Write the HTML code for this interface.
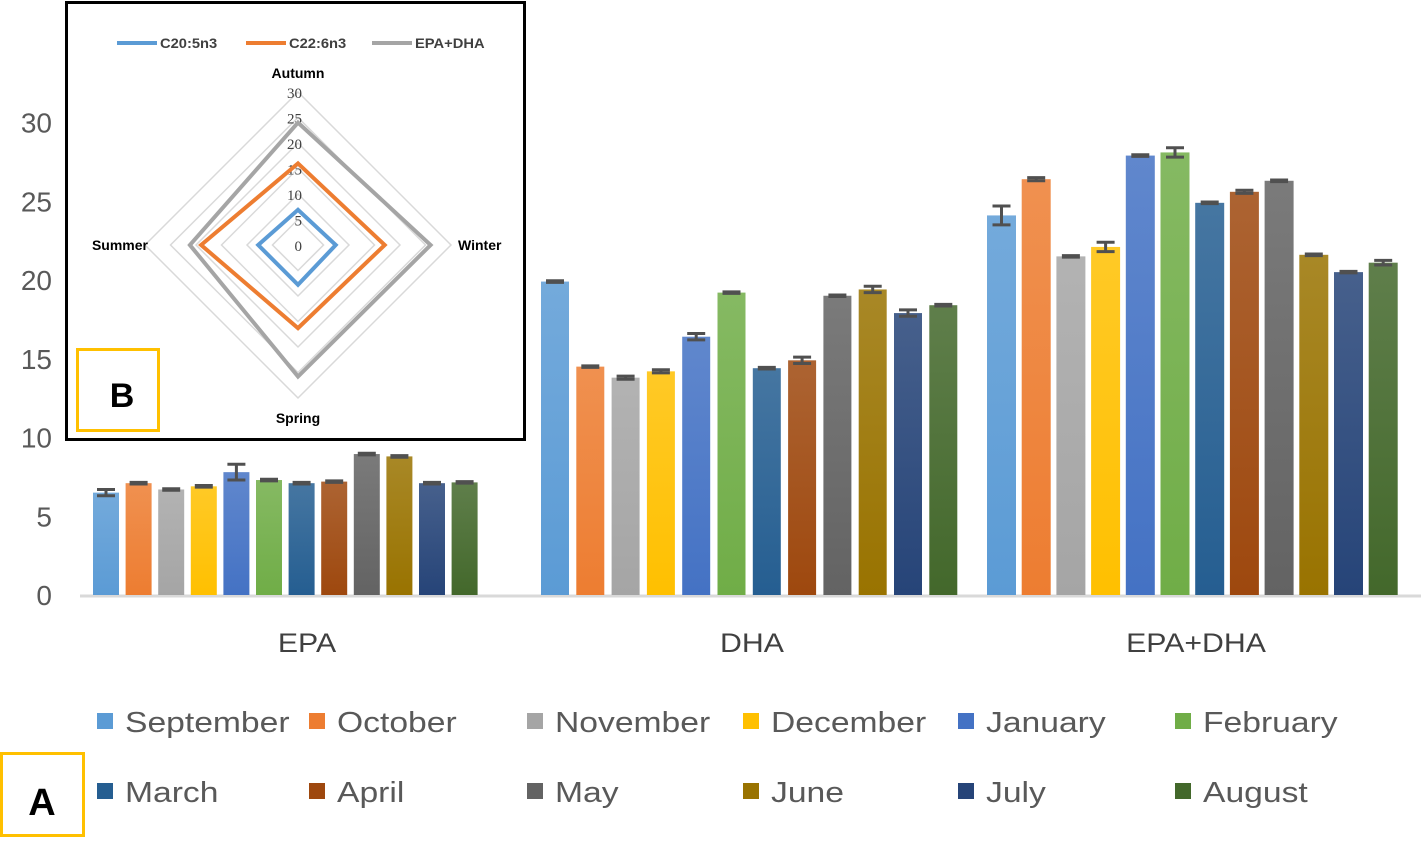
<!DOCTYPE html>
<html><head><meta charset="utf-8"><style>
body{margin:0;background:#fff;width:1421px;height:837px;overflow:hidden;font-family:"Liberation Sans",sans-serif}
</style></head><body>
<svg id="c" width="1421" height="837" xmlns="http://www.w3.org/2000/svg"></svg>
<script>
const months=["September","October","November","December","January","February","March","April","May","June","July","August"];
const groups=["EPA","DHA","EPA+DHA"];
const epa=[6.5,7.1,6.7,6.9,7.8,7.3,7.1,7.2,8.95,8.8,7.1,7.15];
const dha=[19.9,14.5,13.8,14.2,16.4,19.2,14.4,14.9,19.0,19.4,17.9,18.4];
const epadha=[24.1,26.4,21.5,22.1,27.9,28.1,24.9,25.6,26.3,21.6,20.5,21.1];
const epaErr=[0.2,0.05,0.05,0.05,0.5,0.05,0.05,0.05,0.05,0.05,0.05,0.05];
const dhaErr=[0.05,0.05,0.1,0.1,0.2,0.05,0.05,0.2,0.05,0.2,0.2,0.05];
const edErr=[0.6,0.1,0.05,0.3,0.05,0.3,0.05,0.1,0.05,0.05,0.05,0.15];
const yTicks=[0,5,10,15,20,25,30];
const seasons=["Autumn","Winter","Spring","Summer"];
const c205=[6.9,7.4,7.8,7.8];
const c226=[16,17,16.3,19];
const cSum=[24,26,25.8,21.2];
const radarTicks=[0,5,10,15,20,25,30];
const colors=["#5b9bd5","#ed7d31","#a5a5a5","#ffc000","#4472c4","#70ad47","#255e91","#9e480e","#636363","#997300","#264478","#43682b"];
const NS="http://www.w3.org/2000/svg";
const svg=document.getElementById('c');
function el(t,a,p){const e=document.createElementNS(NS,t);for(const k in a)e.setAttribute(k,a[k]);(p||svg).appendChild(e);return e;}
function widen(t,f){const w=t.getComputedTextLength();t.setAttribute('textLength',w*f);t.setAttribute('lengthAdjust','spacingAndGlyphs');}
const y0=595,ppu=15.75;
const Y=v=>y0-v*ppu;
const defs=el('defs',{});
colors.forEach((c,i)=>{const g=el('linearGradient',{id:'g'+i,x1:0,y1:0,x2:0,y2:1},defs);
el('stop',{offset:0,'stop-color':c,'stop-opacity':0.85},g);el('stop',{offset:1,'stop-color':c},g);});
yTicks.forEach(t=>{const tx=el('text',{x:52,y:Y(t)+10,'text-anchor':'end','font-size':28,fill:'#595959'});


tx.textContent=t;});
const ax=el('line',{x1:80,x2:1421,y1:y0+1,y2:y0+1,stroke:'#d9d9d9','stroke-width':3});


const gStart=[93,541,987],gStep=[32.6,35.3,34.7],gW=[26,28,29],gCenter=[307,752,1196];
const series=[epa,dha,epadha],errs=[epaErr,dhaErr,edErr];
series.forEach((vals,gi)=>{
 const lbl=el('text',{x:gCenter[gi],y:652,'text-anchor':'middle','font-size':27,fill:'#404040'});
 
 
 lbl.textContent=groups[gi];
 widen(lbl,1.12);
 vals.forEach((v,i)=>{const x=gStart[gi]+i*gStep[gi];
  const r=el('rect',{x:x,y:Y(v),width:gW[gi],height:v*ppu,fill:'url(#g'+i+')'});
  
  
  const e=errs[gi][i],cx=x+gW[gi]/2;
  const eb=el('path',{d:`M${cx-9},${Y(v+e)}H${cx+9}M${cx},${Y(v+e)}V${Y(v-e)}M${cx-9},${Y(v-e)}H${cx+9}`,stroke:'#505050','stroke-width':3,fill:'none'});
  
  
 });
});
const lx=[97,309,527,743,958,1175];
months.forEach((m,i)=>{const x=lx[i%6],y=i<6?722:792;
 const s=el('rect',{x:x,y:y-9,width:16,height:16,fill:colors[i]});
 
 
 const t=el('text',{x:x+28,y:y+10,'font-size':29,fill:'#595959'});
 
 
 t.textContent=m;
 widen(t,1.16);});
const aBox=el('rect',{x:1.5,y:753.5,width:82,height:82,fill:'none',stroke:'#ffc000','stroke-width':3});


const aT=el('text',{x:42,y:815,'text-anchor':'middle','font-size':38,'font-weight':'bold',fill:'#000'});


aT.textContent='A';
const inset=el('rect',{x:66.5,y:2.5,width:458,height:437,fill:'#fff',stroke:'#000','stroke-width':3});


const cx=298,cy=245,rp=5.1;
radarTicks.forEach(t=>{if(t===0)return;const r=t*rp;
 const g=el('polygon',{points:`${cx},${cy-r} ${cx+r},${cy} ${cx},${cy+r} ${cx-r},${cy}`,fill:'none',stroke:'#d9d9d9','stroke-width':1.5});
 
 });
radarTicks.forEach(t=>{const tx=el('text',{x:cx+4,y:cy-t*rp+6,'text-anchor':'end','font-size':15,fill:'#404040','font-family':'Liberation Serif, serif'});
 
 
 tx.textContent=t;});
const rSeries=[c205,c226,cSum],rCol=['#5b9bd5','#ed7d31','#a5a5a5'],rNames=['C20:5n3','C22:6n3','EPA+DHA'];
const dirs=[[0,-1],[1,0],[0,1],[-1,0]];
rSeries.forEach((vals,si)=>{const pts=vals.map((v,i)=>`${cx+dirs[i][0]*v*rp},${cy+dirs[i][1]*v*rp}`).join(' ');
 const p=el('polygon',{points:pts,fill:'none',stroke:rCol[si],'stroke-width':4});
 
 });
const sPos=[[cx,78,'middle'],[458,250,'start'],[cx,423,'middle'],[148,250,'end']];
seasons.forEach((s,i)=>{const t=el('text',{x:sPos[i][0],y:sPos[i][1],'text-anchor':sPos[i][2],'font-size':14,'font-weight':'bold',fill:'#000'});
 
 
 t.textContent=s;});
const rlx=[117,246,372];
rNames.forEach((n,i)=>{const l=el('line',{x1:rlx[i],x2:rlx[i]+40,y1:43,y2:43,stroke:rCol[i],'stroke-width':4});
 
 
 const t=el('text',{x:rlx[i]+43,y:48,'font-size':14,'font-weight':'bold',fill:'#404040'});
 
 
 t.textContent=n;
 widen(t,1.05);});
const bBox=el('rect',{x:77.5,y:349.5,width:81,height:81,fill:'none',stroke:'#ffc000','stroke-width':3});


const bT=el('text',{x:122,y:407,'text-anchor':'middle','font-size':34,'font-weight':'bold',fill:'#000'});


bT.textContent='B';
</script>
</body></html>
